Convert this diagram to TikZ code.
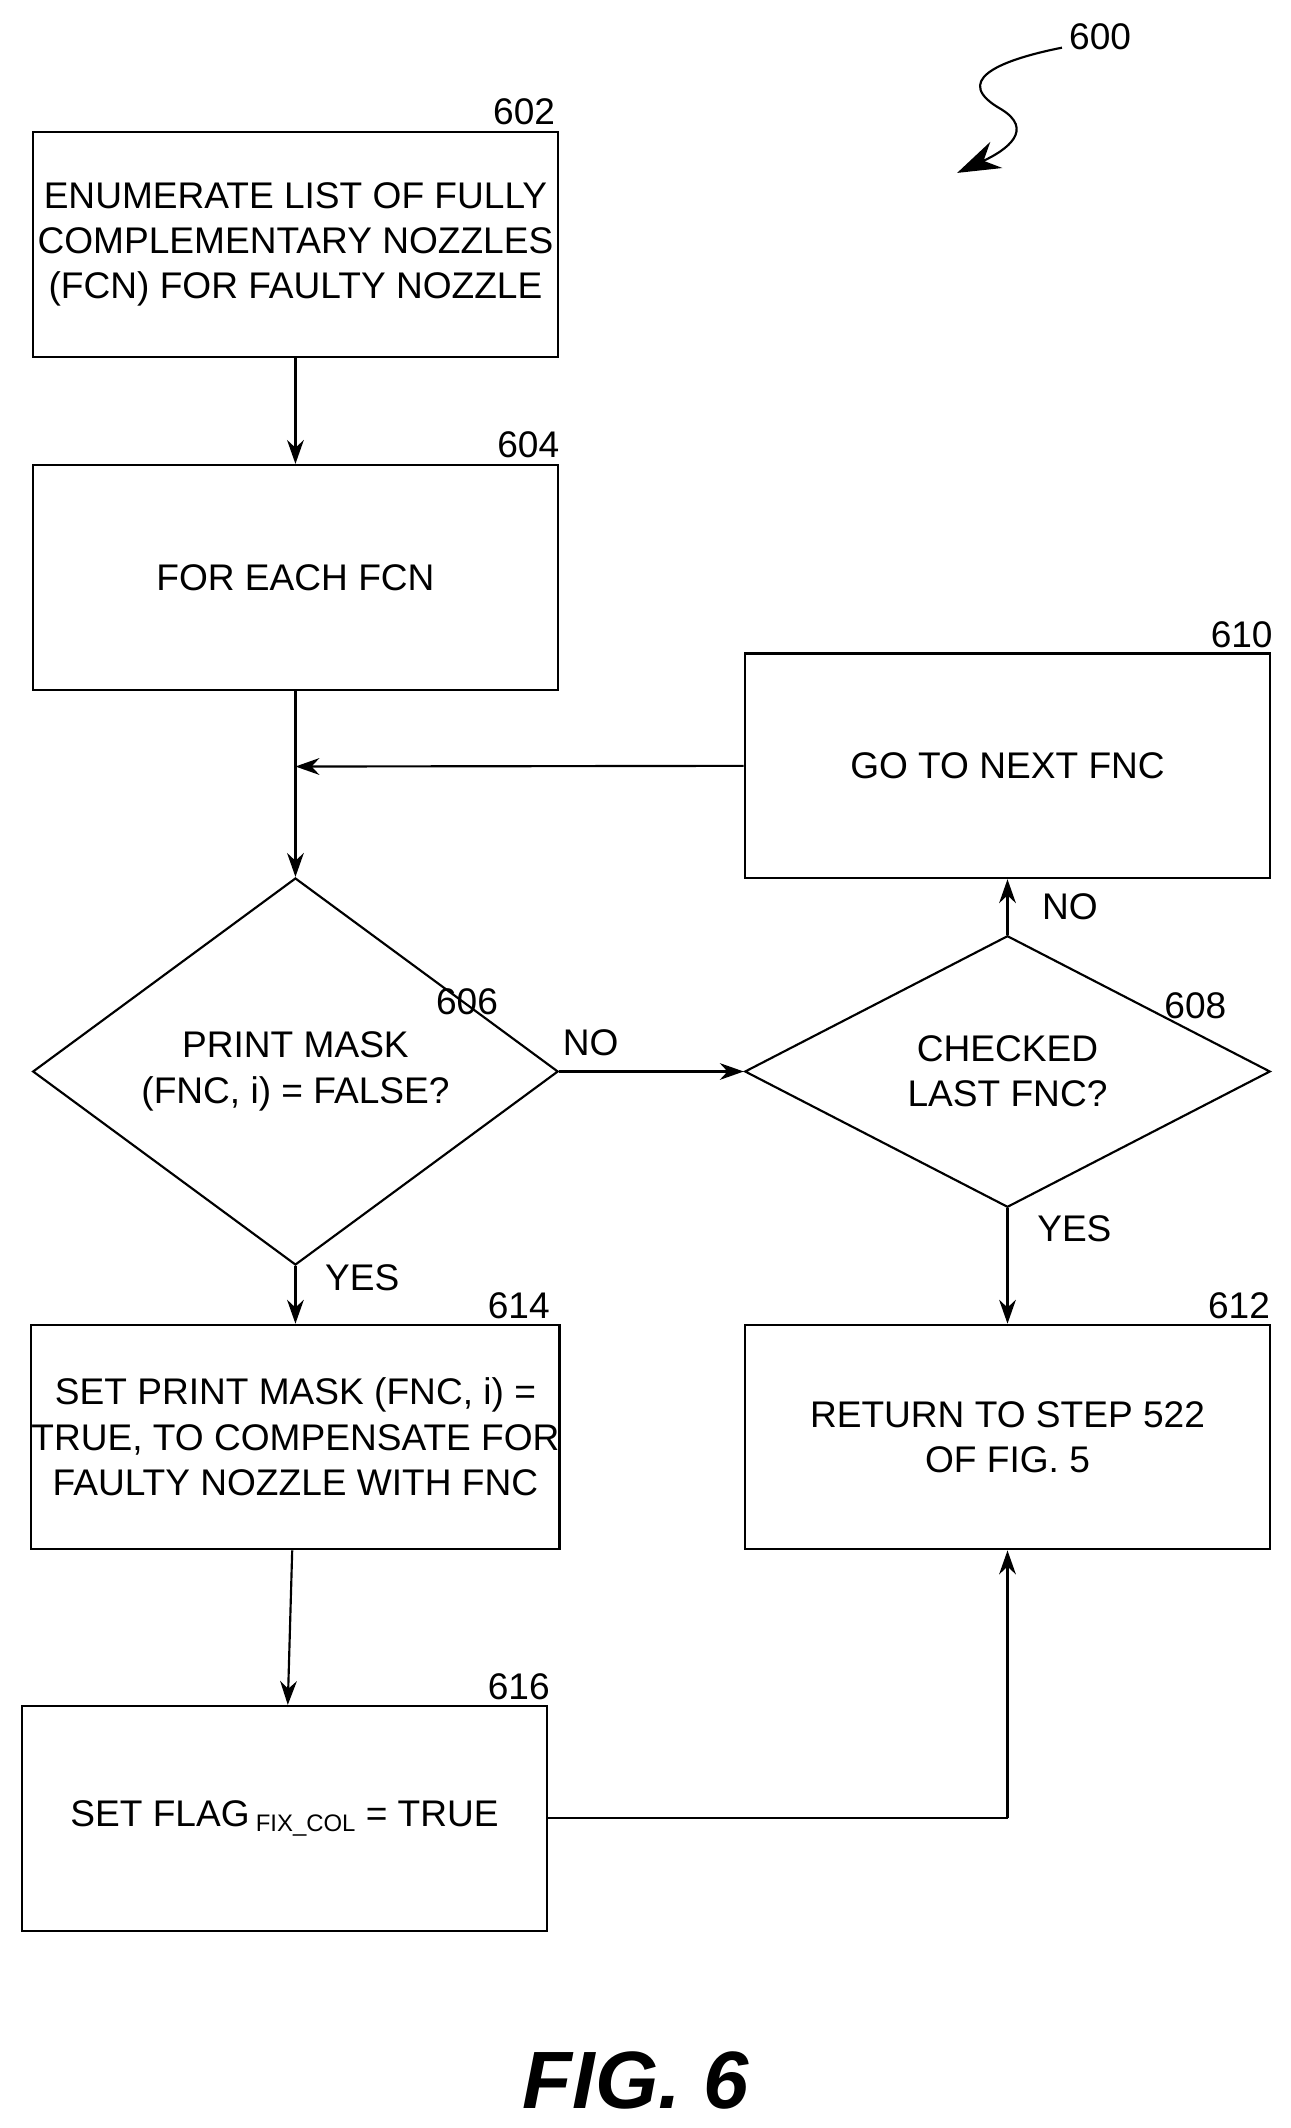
\documentclass[tikz,border=0pt]{standalone}
\usepackage{fontspec}
\setmainfont{Liberation Sans}
\usetikzlibrary{shapes.geometric,arrows.meta}
\begin{document}
\begin{tikzpicture}[x=0.02cm,y=-0.02cm]
\tikzset{
  box/.style={draw, line width=0.9pt, minimum width=7.72cm, minimum height=3.3cm, align=center, font=\fontsize{15.5}{19}\selectfont, inner sep=0pt},
  dia/.style={draw, line width=0.9pt, diamond, minimum width=7.72cm, minimum height=3.28cm, align=center, font=\fontsize{15.5}{19}\selectfont, inner sep=0pt},
  num/.style={font=\fontsize{15.5}{19}\selectfont, inner sep=0pt},
  arr/.style={line width=0.9pt, -{Stealth[length=10pt,width=7pt]}},
  ln/.style={line width=0.9pt}
}
\useasboundingbox (0,0) rectangle (948,1563);
% boxes
\node[box] (n602) at (217,179.5) {ENUMERATE LIST OF FULLY\\COMPLEMENTARY NOZZLES\\(FCN) FOR FAULTY NOZZLE};
\node[num] at (385,82) {602};
\node[box] (n604) at (217,424) {FOR EACH FCN};
\node[num] at (388,327) {604};
\node[box] (n610) at (740,562.5) {GO TO NEXT FNC};
\node[num] at (912,466) {610};
\node[dia] (n606) at (217,787) {PRINT MASK\\(FNC, i) = FALSE?};
\node[num] at (343,736) {606};
\node[dia] (n608) at (740,787) {CHECKED\\LAST FNC?};
\node[num] at (878,739) {608};
\node[box] (n614) at (217,1055.5) {SET PRINT MASK (FNC, i) =\\TRUE, TO COMPENSATE FOR\\FAULTY NOZZLE WITH FNC};
\node[num] at (381,959) {614};
\node[box] (n612) at (740,1055.5) {RETURN TO STEP 522\\OF FIG. 5};
\node[num] at (910,959) {612};
\node[box] (n616) at (209,1335.5) {SET FLAG\,{\fontsize{10}{12}\selectfont\raisebox{-0.4ex}{FIX\_COL}} = TRUE};
\node[num] at (381,1239) {616};
\coordinate (join) at (217,563);
\coordinate (corner) at (740,1335.5);
% connectors
\draw[arr] (n602) -- (n604);
\draw[ln] (n604) -- (join);
\draw[arr] (join) -- (n606.north);
\draw[arr] (n610.west) -- (join);
\draw[arr] (n606.east) -- node[num, above, pos=0.17, yshift=6pt] {NO} (n608.west);
\draw[arr] (n608.north) -- node[num, right, xshift=14pt] {NO} (n610.south);
\draw[arr] (n606.south) -- node[num, right, pos=0.2, xshift=12pt] {YES} (n614.north);
\draw[arr] (n608.south) -- node[num, right, pos=0.18, xshift=12pt] {YES} (n612.north);
\draw[arr] (n614) -- (n616);
\draw[ln] (n616.east) -- (corner);
\draw[arr] (corner) -- (n612.south);
% reference numeral
\node[num] (n600) at (808,27) {600};
\draw[line width=0.9pt, -{Stealth[length=18pt,width=12pt]}] (780,35) .. controls (730,45) and (700,60) .. (735,80) .. controls (760,95) and (740,110) .. (703,127);
\node[font=\bfseries\itshape\fontsize{34}{40}\selectfont] at (467,1528) {FIG. 6};
\end{tikzpicture}
\end{document}
